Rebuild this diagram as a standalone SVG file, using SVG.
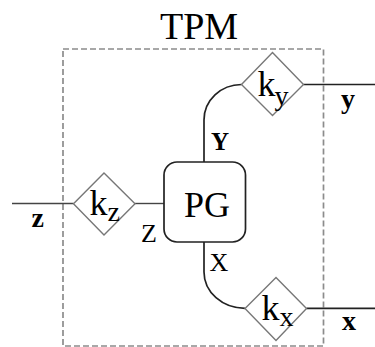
<svg xmlns="http://www.w3.org/2000/svg" width="375" height="347" viewBox="0 0 375 347">
<style>
text{font-family:"Liberation Serif","Times New Roman",serif;fill:#000}
.b{font-weight:bold}
.dia{fill:#fff;stroke:#777;stroke-width:1.4}
.wire{fill:none;stroke:#222;stroke-width:1.7}
.thin{fill:none;stroke:#444;stroke-width:1.4}
.frame{fill:none;stroke:#8c8c8c;stroke-width:1.7;stroke-dasharray:6 3}
</style>
<rect width="375" height="347" fill="#fff"/>
<g id="tpm">
<rect class="frame" x="63" y="49" width="260.5" height="297"/>
<text x="199" y="38.5" font-size="38" text-anchor="middle">TPM</text>
</g>
<g id="connectors">
<path class="thin" d="M12,203.5 H73.5"/>
<path class="thin" d="M135,203.5 H164"/>
<path class="wire" d="M204,162 V120 A37.5 35.5 0 0 1 241.5 84.5"/>
<path class="wire" d="M303.5,84.5 H375"/>
<path class="wire" d="M204,242 V272 A41 36.3 0 0 0 245 308.3"/>
<path class="wire" d="M306.5,308.3 H375"/>
<text class="b" x="31.5" y="227" font-size="28">z</text>
<text x="141" y="241.5" font-size="26">Z</text>
<text class="b" x="211" y="150" font-size="25">Y</text>
<text x="209.5" y="270.5" font-size="26">X</text>
<text class="b" x="341" y="108" font-size="28">y</text>
<text class="b" x="342" y="330" font-size="28">x</text>
</g>
<g id="kz">
<polygon class="dia" points="73.5,203.7 104,173 135,203.7 104,235"/>
<text x="89.5" y="215" font-size="36">k<tspan x="107.5" y="220.5" font-size="28">z</tspan></text>
</g>
<g id="pg">
<rect x="164" y="162" width="81.5" height="80" rx="13" fill="#fff" stroke="#222" stroke-width="1.7"/>
<text x="207" y="216.5" font-size="36" text-anchor="middle">PG</text>
</g>
<g id="ky">
<polygon class="dia" points="241.5,84.5 272.5,52.5 303.5,84.5 272.5,115.5"/>
<text x="257.5" y="95.5" font-size="36">k<tspan x="274.5" y="104.5" font-size="28">y</tspan></text>
</g>
<g id="kx">
<polygon class="dia" points="245,308.5 276,277.5 306.5,308.5 276,340.5"/>
<text x="261.5" y="320" font-size="36">k<tspan x="279.5" y="325.5" font-size="28">x</tspan></text>
</g>
</svg>
